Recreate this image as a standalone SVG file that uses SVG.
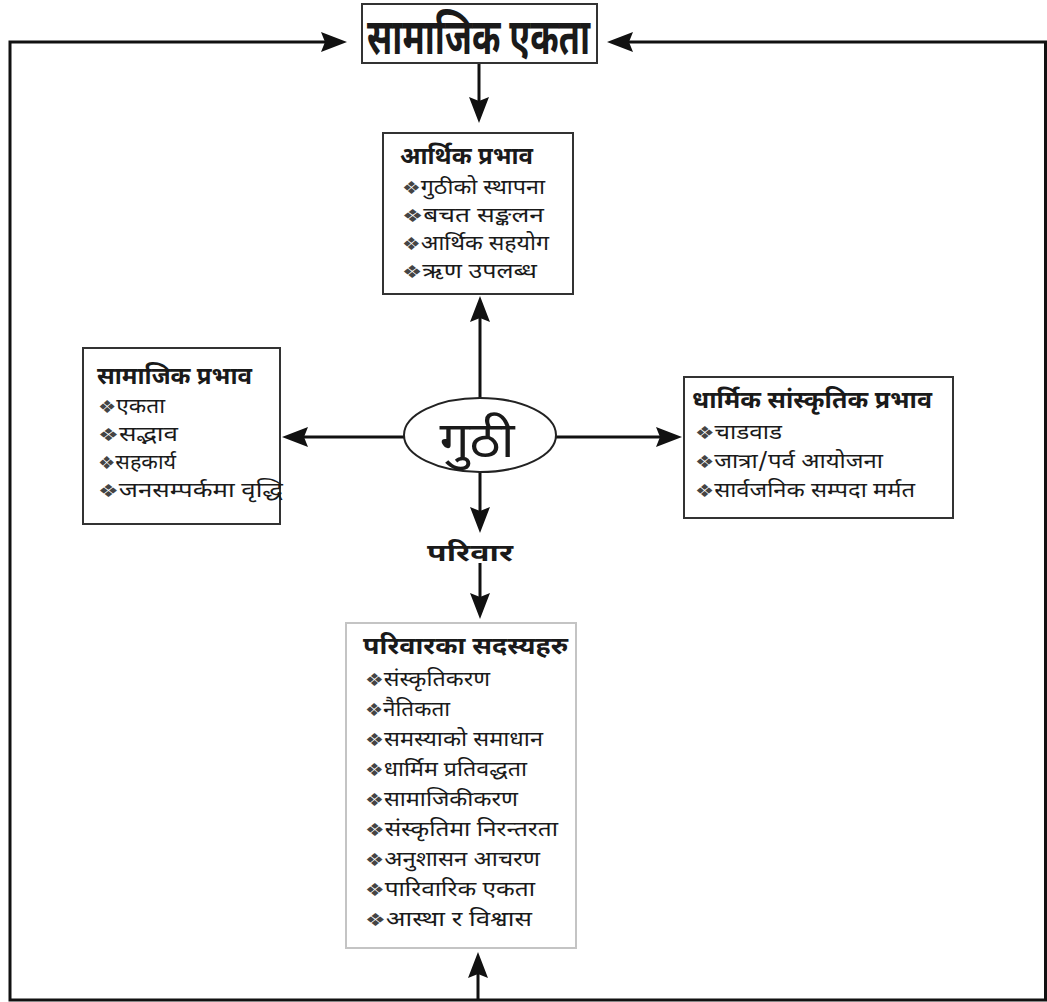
<svg xmlns="http://www.w3.org/2000/svg" width="1047" height="1002" viewBox="0 0 1047 1002">
<style>
text{font-family:"Noto Sans Devanagari","Lohit Devanagari","Noto Serif Devanagari","Noto Sans","DejaVu Sans",sans-serif;fill:#1a1a1a}
.h{font-weight:bold;font-size:24px}
.i{font-size:20px}
.b{font-size:18px;fill:#444}
.box{fill:#fff;stroke:#333;stroke-width:2}
.lbox{fill:#fff;stroke:#c4c4c4;stroke-width:2}
.c{fill:none;stroke:#111;stroke-width:3}
</style>
<defs>
<marker id="ah" viewBox="0 0 26 20" markerWidth="26" markerHeight="20" refX="14" refY="10" orient="auto" markerUnits="userSpaceOnUse">
<path d="M0,0 L26,10 L0,20 L4,10 z" fill="#111"/>
</marker>
</defs>
<rect width="1047" height="1002" fill="#fff"/>
<g id="connectors">
<path class="c" d="M478,1000 L10,1000 L10,42 L335,42" marker-end="url(#ah)"/>
<path class="c" d="M478,1000 L1045.5,1000 L1045.5,42 L619,42" marker-end="url(#ah)"/>
<path class="c" d="M478,1000 L478,964" marker-end="url(#ah)"/>
<path class="c" d="M479,63 L479,111" marker-end="url(#ah)"/>
<path class="c" d="M480,398 L480,308" marker-end="url(#ah)"/>
<path class="c" d="M404,437 L294,437" marker-end="url(#ah)"/>
<path class="c" d="M556,437 L670,437" marker-end="url(#ah)"/>
<path class="c" d="M480,472 L480,521" marker-end="url(#ah)"/>
<path class="c" d="M480,563 L480,607" marker-end="url(#ah)"/>
</g>
<g id="samajik-ekata">
<rect class="box" x="362" y="4" width="235" height="59"/>
<text x="367" y="54" font-size="50" font-weight="bold" textLength="223" lengthAdjust="spacingAndGlyphs">सामाजिक एकता</text>
</g>
<g id="aarthik">
<rect class="box" x="383" y="133" width="190" height="161"/>
<text class="h" x="400" y="164" textLength="133" lengthAdjust="spacingAndGlyphs">आर्थिक प्रभाव</text>
<text class="i" x="402" y="194" textLength="143" lengthAdjust="spacingAndGlyphs"><tspan class="b">❖</tspan>गुठीको स्थापना</text>
<text class="i" x="402" y="222" textLength="142" lengthAdjust="spacingAndGlyphs"><tspan class="b">❖</tspan>बचत सङ्कलन</text>
<text class="i" x="402" y="250" textLength="147" lengthAdjust="spacingAndGlyphs"><tspan class="b">❖</tspan>आर्थिक सहयोग</text>
<text class="i" x="402" y="278" textLength="135" lengthAdjust="spacingAndGlyphs"><tspan class="b">❖</tspan>ऋण उपलब्ध</text>
</g>
<g id="samajik">
<rect class="box" x="83" y="348" width="197" height="176"/>
<text class="h" x="97" y="384" textLength="155" lengthAdjust="spacingAndGlyphs">सामाजिक प्रभाव</text>
<text class="i" x="98" y="413" textLength="67" lengthAdjust="spacingAndGlyphs"><tspan class="b">❖</tspan>एकता</text>
<text class="i" x="98" y="441" textLength="80" lengthAdjust="spacingAndGlyphs"><tspan class="b">❖</tspan>सद्भाव</text>
<text class="i" x="98" y="469" textLength="78" lengthAdjust="spacingAndGlyphs"><tspan class="b">❖</tspan>सहकार्य</text>
<text class="i" x="98" y="497" textLength="185" lengthAdjust="spacingAndGlyphs"><tspan class="b">❖</tspan>जनसम्पर्कमा वृद्धि</text>
</g>
<g id="dharmik">
<rect class="box" x="684" y="377" width="269" height="141"/>
<text class="h" x="692" y="408" textLength="240" lengthAdjust="spacingAndGlyphs">धार्मिक सांस्कृतिक प्रभाव</text>
<text class="i" x="695" y="439" textLength="87" lengthAdjust="spacingAndGlyphs"><tspan class="b">❖</tspan>चाडवाड</text>
<text class="i" x="695" y="468" textLength="188" lengthAdjust="spacingAndGlyphs"><tspan class="b">❖</tspan>जात्रा/पर्व आयोजना</text>
<text class="i" x="695" y="497" textLength="220" lengthAdjust="spacingAndGlyphs"><tspan class="b">❖</tspan>सार्वजनिक सम्पदा मर्मत</text>
</g>
<g id="guthi">
<ellipse cx="480" cy="435" rx="76" ry="37" fill="#fff" stroke="#222" stroke-width="2"/>
<text x="477" y="457" font-size="50" text-anchor="middle" textLength="75" lengthAdjust="spacingAndGlyphs">गुठी</text>
</g>
<g id="pariwar-label">
<text class="h" x="470" y="561" text-anchor="middle" textLength="86" lengthAdjust="spacingAndGlyphs">परिवार</text>
</g>
<g id="pariwar-sadasya">
<rect class="lbox" x="346" y="623" width="230" height="325"/>
<text class="h" x="363" y="654" textLength="205" lengthAdjust="spacingAndGlyphs">परिवारका सदस्यहरु</text>
<text class="i" x="365" y="686" textLength="125" lengthAdjust="spacingAndGlyphs"><tspan class="b">❖</tspan>संस्कृतिकरण</text>
<text class="i" x="365" y="716" textLength="85" lengthAdjust="spacingAndGlyphs"><tspan class="b">❖</tspan>नैतिकता</text>
<text class="i" x="365" y="746" textLength="178" lengthAdjust="spacingAndGlyphs"><tspan class="b">❖</tspan>समस्याको समाधान</text>
<text class="i" x="365" y="776" textLength="162" lengthAdjust="spacingAndGlyphs"><tspan class="b">❖</tspan>धार्मिम प्रतिवद्धता</text>
<text class="i" x="365" y="806" textLength="153" lengthAdjust="spacingAndGlyphs"><tspan class="b">❖</tspan>सामाजिकीकरण</text>
<text class="i" x="365" y="836" textLength="193" lengthAdjust="spacingAndGlyphs"><tspan class="b">❖</tspan>संस्कृतिमा निरन्तरता</text>
<text class="i" x="365" y="866" textLength="175" lengthAdjust="spacingAndGlyphs"><tspan class="b">❖</tspan>अनुशासन आचरण</text>
<text class="i" x="365" y="896" textLength="170" lengthAdjust="spacingAndGlyphs"><tspan class="b">❖</tspan>पारिवारिक एकता</text>
<text class="i" x="365" y="926" textLength="167" lengthAdjust="spacingAndGlyphs"><tspan class="b">❖</tspan>आस्था र विश्वास</text>
</g>
</svg>
